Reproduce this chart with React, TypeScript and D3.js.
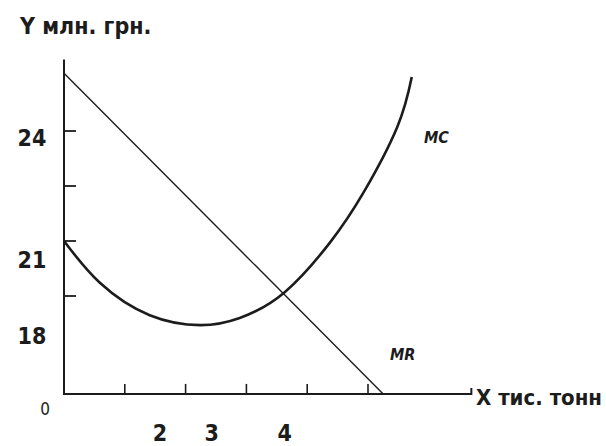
import React, { useEffect, useRef } from 'react';
import * as d3 from 'd3';

// schematic units: one axis tick = one unit
const mcX = [0, 0.59, 1.41, 2.24, 2.89, 3.63, 4.38, 4.92, 5.48, 5.72];
const mcY = [3.0, 2.24, 1.65, 1.47, 1.6, 2.07, 2.98, 3.87, 5.07, 5.98];
const mrX = [0, 5.25];
const mrY = [6.05, 0.22];

const xTicks = [1, 2, 3, 4, 5];
const yTicks = [2, 3, 4, 5];
const xTickLabels = ['2', '3', '4'];
const xTickLabelPos = [1.58, 2.43, 3.63];
const yTickLabels = ['24', '21', '18'];
const yTickLabelPos = [4.84, 2.62, 1.24];

const W = 606;
const H = 446;
const ink = '#1c1c1c';
const font = "'DejaVu Sans Condensed', 'Liberation Sans Narrow', sans-serif";

export default function App() {
  const svgRef = useRef<SVGSVGElement>(null);

  useEffect(() => {
    if (!svgRef.current) return;
    const svg = d3.select(svgRef.current);
    svg.selectAll('*').remove();

    const x = d3.scaleLinear().domain([0, 5]).range([64, 368]);
    const y = d3.scaleLinear().domain([0, 5]).range([406, 131]);
    const base = 0.22;
    const xEnd = 6.7;
    const yTop = 6.3;

    svg.append('rect').attr('width', W).attr('height', H).attr('fill', '#fff');

    // axes
    svg.append('path')
      .attr('d', `M${x(0)},${y(yTop)}V${y(base)}H${x(xEnd)}v-6`)
      .attr('fill', 'none')
      .attr('stroke', ink)
      .attr('stroke-width', 2);

    svg.selectAll('.xt')
      .data(xTicks)
      .enter()
      .append('line')
      .attr('x1', d => x(d)).attr('x2', d => x(d))
      .attr('y1', y(base)).attr('y2', y(base) - 10)
      .attr('stroke', ink)
      .attr('stroke-width', 1.6);

    svg.selectAll('.yt')
      .data(yTicks)
      .enter()
      .append('line')
      .attr('x1', x(0)).attr('x2', x(0) + 12)
      .attr('y1', d => y(d)).attr('y2', d => y(d))
      .attr('stroke', ink)
      .attr('stroke-width', 1.8);

    // MR line
    const line = d3.line<number>()
      .x((d, i) => x(mrX[i]))
      .y(d => y(d));
    svg.append('path')
      .datum(mrY)
      .attr('fill', 'none')
      .attr('stroke', ink)
      .attr('stroke-width', 1.4)
      .attr('d', line);

    // MC curve
    const curve = d3.line<number>()
      .x((d, i) => x(mcX[i]))
      .y(d => y(d))
      .curve(d3.curveNatural);
    svg.append('path')
      .datum(mcY)
      .attr('fill', 'none')
      .attr('stroke', ink)
      .attr('stroke-width', 2.6)
      .attr('d', curve);

    const text = (tx: number, ty: number, s: string, size: number, opts: any = {}) =>
      svg.append('text')
        .attr('x', tx)
        .attr('y', ty)
        .attr('font-family', font)
        .attr('font-size', size)
        .attr('font-weight', opts.weight ?? 'bold')
        .attr('font-style', opts.style ?? 'normal')
        .attr('text-anchor', opts.anchor ?? 'start')
        .attr('dominant-baseline', 'middle')
        .attr('fill', ink)
        .text(s);

    yTickLabels.forEach((s, i) => text(32, y(yTickLabelPos[i]), s, 23, { anchor: 'middle' }));
    xTickLabels.forEach((s, i) => text(x(xTickLabelPos[i]), 434, s, 23, { anchor: 'middle' }));
    text(45, 410, '0', 17, { anchor: 'middle', weight: 'normal' });

    text(20, 27, 'Y млн. грн.', 23);
    text(476, 399, 'X тис. тонн', 22);
    text(424, 138, 'MC', 16, { style: 'italic' });
    text(390, 355, 'MR', 16, { style: 'italic' });
  }, []);

  return (
    <svg
      ref={svgRef}
      width={W}
      height={H}
      style={{ position: 'absolute', left: 0, top: 0 }}
    />
  );
}
